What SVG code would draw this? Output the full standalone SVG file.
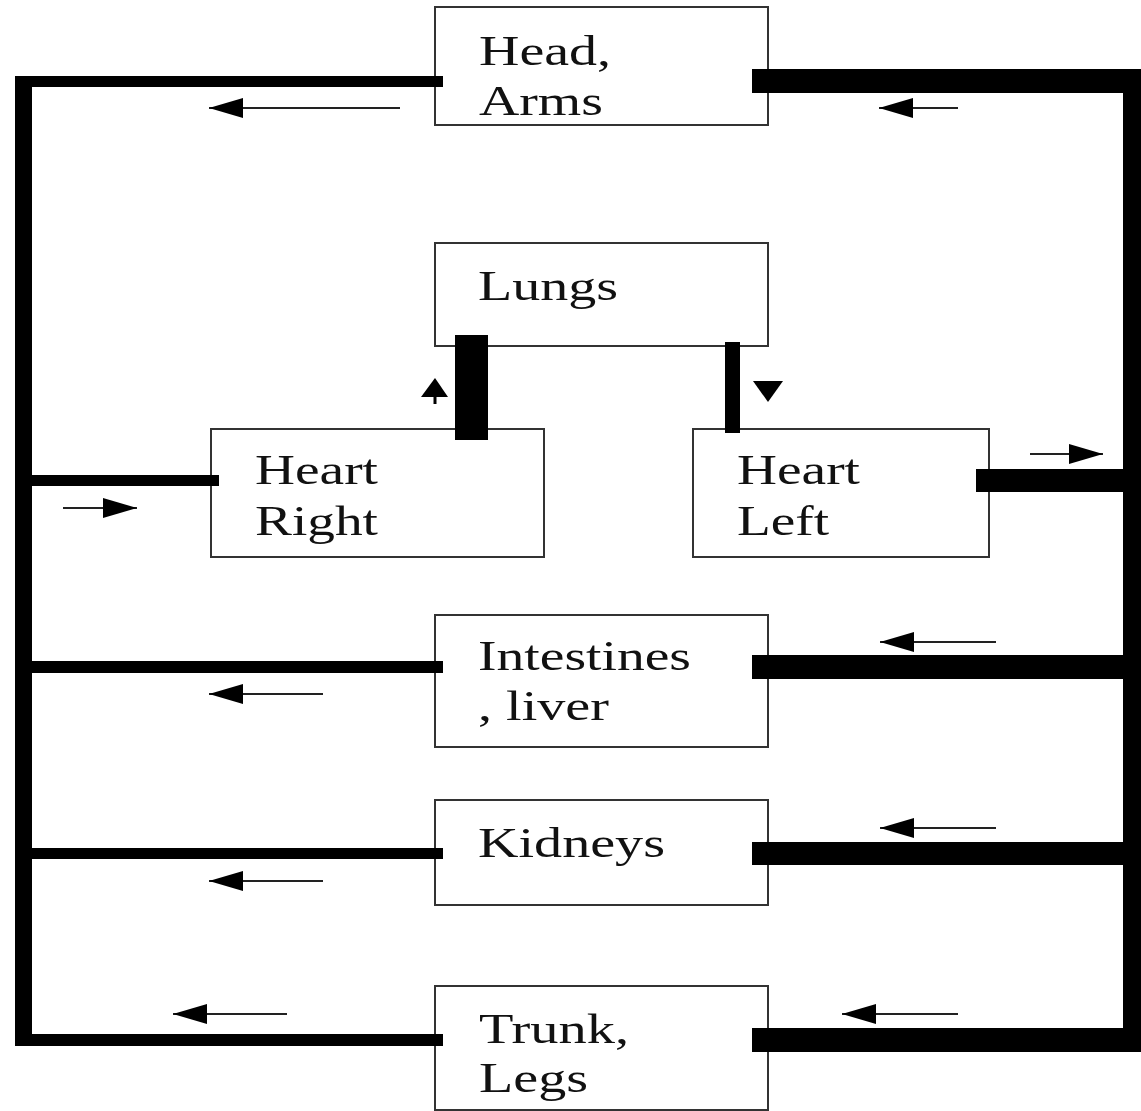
<svg xmlns="http://www.w3.org/2000/svg" width="1141" height="1111" viewBox="0 0 1141 1111">
  <style>
    .box { fill: #fff; stroke: #333; stroke-width: 2; }
    .lbl { font-family: "Liberation Serif", "Times New Roman", serif; font-size: 42px; fill: #111; }
    .bar { fill: #000; }
    .arr { stroke: #222; stroke-width: 2.2; fill: none; marker-end: url(#ah); }
  </style>
  <defs>
    <marker id="ah" markerUnits="userSpaceOnUse" markerWidth="36" markerHeight="22" refX="34" refY="10" orient="auto">
      <path d="M0,0 L34,10 L0,20 Z" fill="#000"/>
    </marker>
  </defs>
  <rect width="1141" height="1111" fill="#fff"/>

  <g id="head-arms">
    <rect class="box" x="435" y="7" width="333" height="118"/>
    <text class="lbl" x="479" y="65" textLength="132" lengthAdjust="spacingAndGlyphs">Head,</text>
    <text class="lbl" x="479" y="115" textLength="124" lengthAdjust="spacingAndGlyphs">Arms</text>
  </g>
  <g id="lungs">
    <rect class="box" x="435" y="243" width="333" height="103"/>
    <text class="lbl" x="478" y="300" textLength="140" lengthAdjust="spacingAndGlyphs">Lungs</text>
  </g>
  <g id="heart-right">
    <rect class="box" x="211" y="429" width="333" height="128"/>
    <text class="lbl" x="255" y="484" textLength="123" lengthAdjust="spacingAndGlyphs">Heart</text>
    <text class="lbl" x="255" y="535" textLength="123" lengthAdjust="spacingAndGlyphs">Right</text>
  </g>
  <g id="heart-left">
    <rect class="box" x="693" y="429" width="296" height="128"/>
    <text class="lbl" x="737" y="484" textLength="123" lengthAdjust="spacingAndGlyphs">Heart</text>
    <text class="lbl" x="737" y="535" textLength="92" lengthAdjust="spacingAndGlyphs">Left</text>
  </g>
  <g id="intestines-liver">
    <rect class="box" x="435" y="615" width="333" height="132"/>
    <text class="lbl" x="478" y="670" textLength="213" lengthAdjust="spacingAndGlyphs">Intestines</text>
    <text class="lbl" x="478" y="720" textLength="131" lengthAdjust="spacingAndGlyphs">, liver</text>
  </g>
  <g id="kidneys">
    <rect class="box" x="435" y="800" width="333" height="105"/>
    <text class="lbl" x="478" y="857" textLength="187" lengthAdjust="spacingAndGlyphs">Kidneys</text>
  </g>
  <g id="trunk-legs">
    <rect class="box" x="435" y="986" width="333" height="124"/>
    <text class="lbl" x="479" y="1043" textLength="150" lengthAdjust="spacingAndGlyphs">Trunk,</text>
    <text class="lbl" x="479" y="1092" textLength="109" lengthAdjust="spacingAndGlyphs">Legs</text>
  </g>

  <g id="connectors">
    <!-- venous (left) side: thinner vessels -->
    <rect class="bar" x="15" y="76" width="17" height="970"/>
    <rect class="bar" x="15" y="76" width="428" height="11"/>
    <rect class="bar" x="15" y="475" width="204" height="11"/>
    <rect class="bar" x="15" y="661" width="428" height="12"/>
    <rect class="bar" x="15" y="848" width="428" height="11"/>
    <rect class="bar" x="15" y="1034" width="428" height="12"/>
    <!-- arterial (right) side: thicker vessels -->
    <rect class="bar" x="1123" y="69" width="18" height="983"/>
    <rect class="bar" x="752" y="69" width="389" height="24"/>
    <rect class="bar" x="976" y="469" width="165" height="23"/>
    <rect class="bar" x="752" y="655" width="389" height="24"/>
    <rect class="bar" x="752" y="842" width="389" height="23"/>
    <rect class="bar" x="752" y="1028" width="389" height="24"/>
    <!-- pulmonary vessels -->
    <rect class="bar" x="455" y="335" width="33" height="105"/>
    <rect class="bar" x="725" y="342" width="15" height="91"/>

    <!-- flow arrows -->
    <line class="arr" x1="400" y1="108" x2="209" y2="108"/>
    <line class="arr" x1="958" y1="108" x2="879" y2="108"/>
    <line class="arr" x1="63" y1="508" x2="137" y2="508"/>
    <line class="arr" x1="1030" y1="454" x2="1103" y2="454"/>
    <line class="arr" x1="323" y1="694" x2="209" y2="694"/>
    <line class="arr" x1="996" y1="642" x2="880" y2="642"/>
    <line class="arr" x1="323" y1="881" x2="209" y2="881"/>
    <line class="arr" x1="996" y1="828" x2="880" y2="828"/>
    <line class="arr" x1="287" y1="1014" x2="173" y2="1014"/>
    <line class="arr" x1="958" y1="1014" x2="842" y2="1014"/>
    <!-- small vertical arrows near lungs -->
    <line x1="435" y1="392" x2="435" y2="404" stroke="#000" stroke-width="3"/>
    <path d="M435,378 L448,397 L421,397 Z" fill="#000"/>
    <path d="M753,381 L783,381 L768,402 Z" fill="#000"/>
  </g>
</svg>
